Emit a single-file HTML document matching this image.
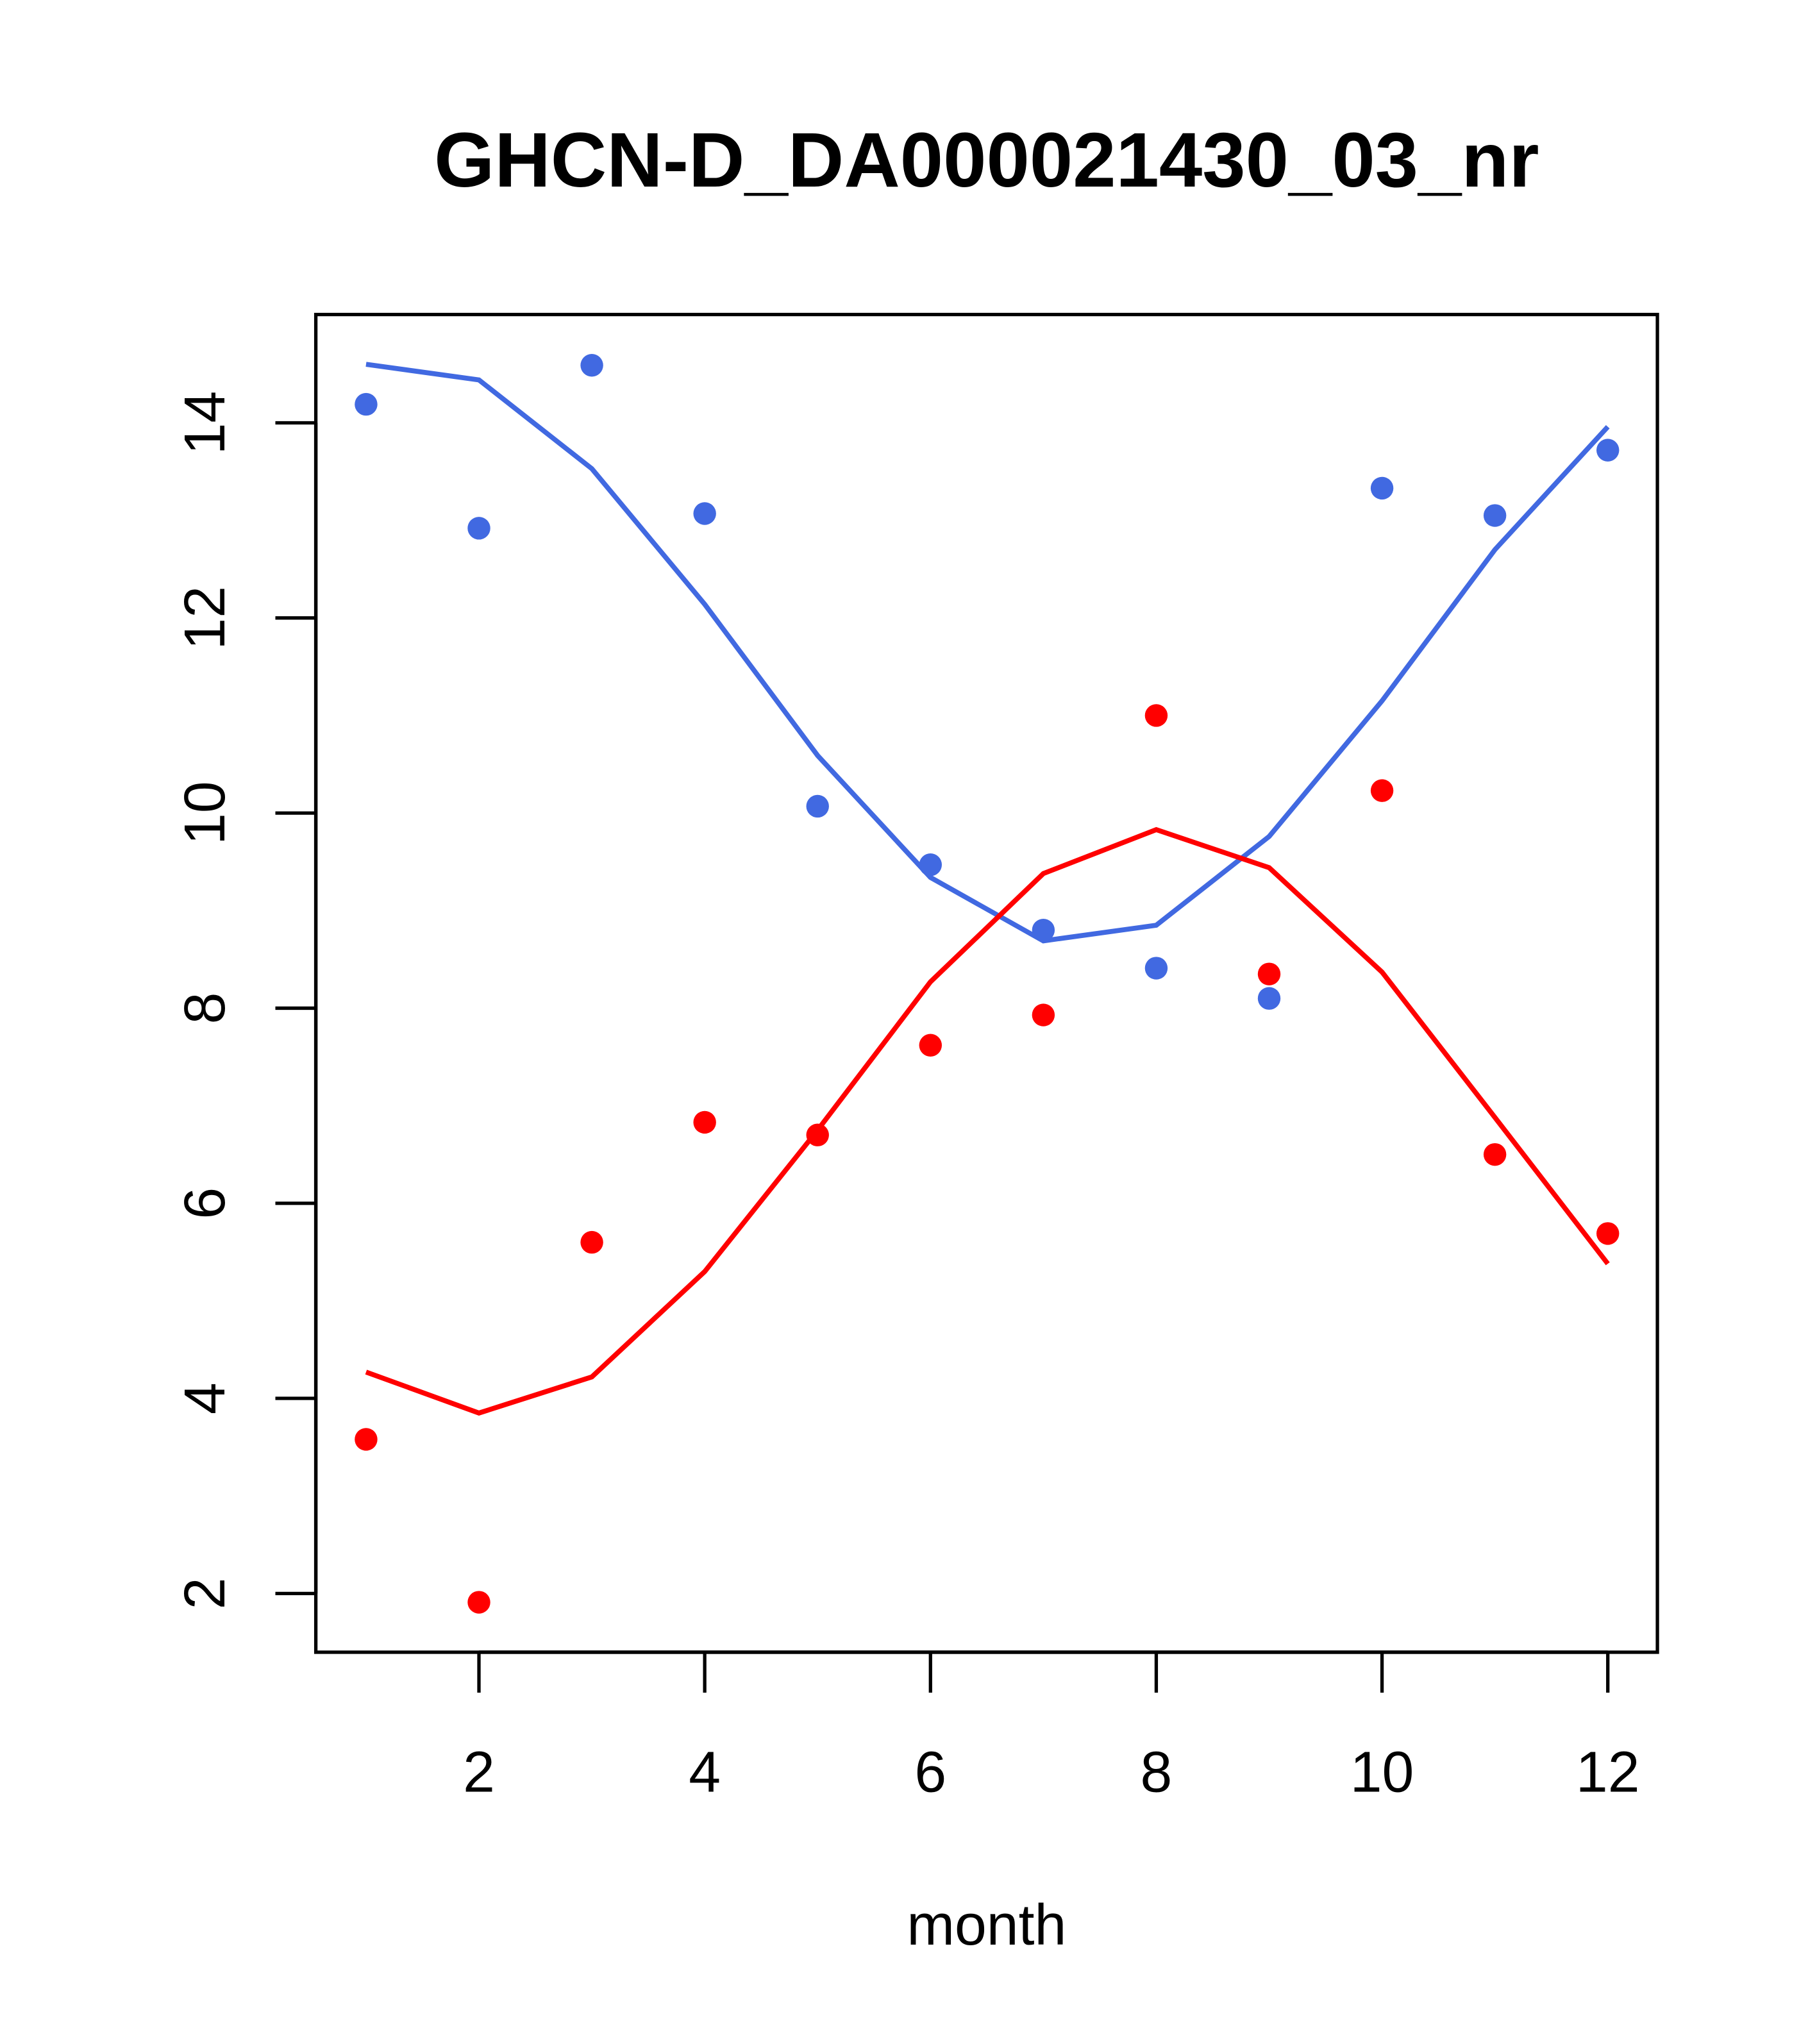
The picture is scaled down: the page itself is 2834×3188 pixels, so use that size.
<!DOCTYPE html>
<html><head><meta charset="utf-8"><style>html,body{margin:0;padding:0;background:#fff}svg{display:block}</style></head>
<body>
<svg id="chart" xmlns="http://www.w3.org/2000/svg" width="2834" height="3188" viewBox="0 0 1392.3 1566.2" preserveAspectRatio="none" font-family="Liberation Sans, sans-serif">
<rect width="1400" height="1580" fill="#fff"/>
<text x="756" y="143" font-size="59.5" font-weight="bold" text-anchor="middle">GHCN-D_DA000021430_03_nr</text>
<rect x="242" y="241" width="1028" height="1025" fill="none" stroke="#000" stroke-width="2.6"/>
<text x="756" y="1490" font-size="44" text-anchor="middle">month</text>
<g id="xaxis"></g>
<g id="yaxis"></g>
<g id="series"></g>
</svg>
<script>
const months=[1,2,3,4,5,6,7,8,9,10,11,12];
const bluePoints=[14.19,12.92,14.59,13.07,10.07,9.47,8.80,8.41,8.10,13.33,13.05,13.72];
const blueLine=[14.60,14.44,13.53,12.14,10.59,9.34,8.69,8.85,9.76,11.15,12.70,13.96];
const redPoints=[3.58,1.91,5.60,6.83,6.70,7.62,7.93,11.0,8.35,10.23,6.50,5.69];
const redLine=[4.27,3.85,4.22,5.30,6.75,8.27,9.38,9.83,9.44,8.37,6.88,5.38];
const xTicks=[2,4,6,8,10,12];
const yTicks=[2,4,6,8,10,12,14];
const NS="http://www.w3.org/2000/svg";
function sx(m){return 367+(m-2)*86.5;}
function sy(v){return 1221-(v-2)*74.75;}
function mk(t,a,p){const e=document.createElementNS(NS,t);for(const k in a)e.setAttribute(k,a[k]);p.appendChild(e);return e;}
const xa=document.getElementById('xaxis'),ya=document.getElementById('yaxis'),sg=document.getElementById('series');
mk('line',{x1:sx(2),x2:sx(12),y1:1266,y2:1266,stroke:'#000','stroke-width':2.6},xa);
xTicks.forEach(t=>{
  const l=mk('line',{x1:sx(t),x2:sx(t),y1:1266,y2:1297,stroke:'#000','stroke-width':2.6},xa);
  
  
  const tx=mk('text',{x:sx(t),y:1373,'font-size':44,'text-anchor':'middle'},xa);tx.textContent=t;
  
  
});
mk('line',{x1:242,x2:242,y1:sy(2),y2:sy(14),stroke:'#000','stroke-width':2.6},ya);
yTicks.forEach(t=>{
  const l=mk('line',{x1:211,x2:242,y1:sy(t),y2:sy(t),stroke:'#000','stroke-width':2.6},ya);
  
  
  const tx=mk('text',{x:0,y:0,'font-size':44,'text-anchor':'middle',transform:`translate(172,${sy(t)}) rotate(-90)`},ya);tx.textContent=t;
  
  
});
function line(vals,col,name){
  const p=mk('polyline',{points:vals.map((v,i)=>sx(months[i])+','+sy(v)).join(' '),fill:'none',stroke:col,'stroke-width':3.8},sg);
  
  
}
function pts(vals,col,name){
  vals.forEach((v,i)=>{
    const c=mk('circle',{cx:sx(months[i]),cy:sy(v),r:8.7,fill:col},sg);
    
    
  });
}
line(blueLine,'#4169E1','blue-line');
line(redLine,'#FF0000','red-line');
pts(bluePoints,'#4169E1','blue-point');
pts(redPoints,'#FF0000','red-point');
</script>
</body></html>
